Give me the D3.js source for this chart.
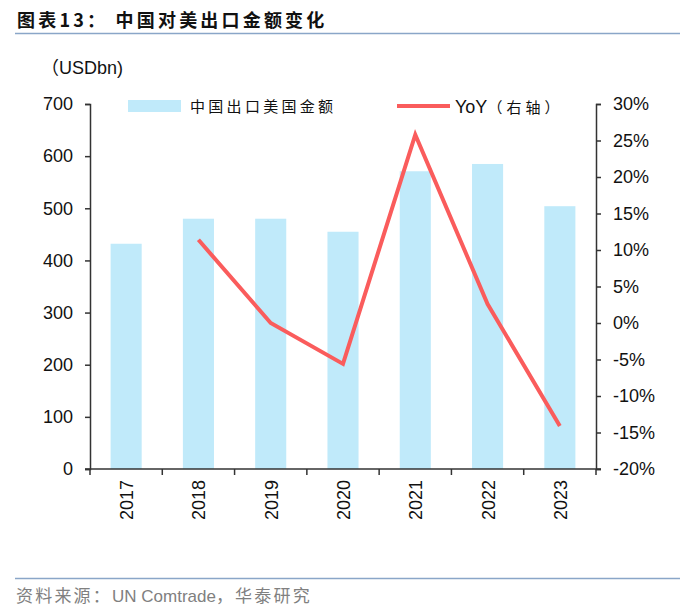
<!DOCTYPE html>
<html lang="zh">
<head>
<meta charset="UTF-8">
<title>中国对美出口金额变化</title>
<script src="https://cdn.jsdelivr.net/npm/d3@7"></script>
<style>
  body { margin: 0; background: #fff; }
  text { font-family: "Liberation Sans", Arial, sans-serif; }
  .cjk { font-family: "Noto Sans CJK SC", sans-serif; }
</style>
</head>
<body>
<script>
  // data
  var years = ['2017', '2018', '2019', '2020', '2021', '2022', '2023']
  var exportValues = [432, 480, 480, 455, 571, 585, 504]
  var yoyYears = ['2018', '2019', '2020', '2021', '2022', '2023']
  var yoyValues = [11.4, 0.0, -5.6, 25.8, 2.6, -14.1]
  var leftTicks = [0, 100, 200, 300, 400, 500, 600, 700]
  var rightTicks = [-20, -15, -10, -5, 0, 5, 10, 15, 20, 25, 30]

  var width = 700
  var height = 614
  var margin = { top: 104, right: 104, bottom: 145, left: 90 }
  var barColor = '#c0eafa'
  var lineColor = '#fa5c5c'

  var svg = d3.select('body')
    .append('svg')
    .attr('width', width)
    .attr('height', height)

  // title and rules
  svg.append('text')
    .attr('class', 'cjk')
    .attr('x', 17)
    .attr('y', 27)
    .attr('font-size', 18)
    .attr('font-weight', 700)
    .attr('letter-spacing', 3.2)
    .attr('fill', '#111')
    .text('图表13：  中国对美出口金额变化')

  svg.append('line')
    .attr('x1', 15).attr('x2', 680)
    .attr('y1', 33.5).attr('y2', 33.5)
    .attr('stroke', '#8aa6c8').attr('stroke-width', 1.5)

  svg.append('line')
    .attr('x1', 15).attr('x2', 680)
    .attr('y1', 578.5).attr('y2', 578.5)
    .attr('stroke', '#8aa6c8').attr('stroke-width', 1.5)

  var source = svg.append('text')
    .attr('x', 16)
    .attr('y', 602)
    .attr('fill', '#808080')
  source.append('tspan')
    .attr('class', 'cjk')
    .attr('font-size', 17)
    .attr('letter-spacing', 2.2)
    .text('资料来源：')
  source.append('tspan')
    .attr('font-size', 17)
    .text('UN Comtrade')
  source.append('tspan')
    .attr('class', 'cjk')
    .attr('font-size', 17)
    .attr('letter-spacing', 2.2)
    .text('，华泰研究')

  var unit = svg.append('text')
    .attr('x', 41)
    .attr('y', 74)
    .attr('fill', '#111')
  unit.append('tspan')
    .attr('class', 'cjk')
    .attr('font-size', 18)
    .text('（')
  unit.append('tspan')
    .attr('font-size', 18)
    .text('USDbn)')

  var x = d3.scaleBand()
    .domain(years)
    .range([margin.left, width - margin.right])
    .paddingInner(0.57)
    .paddingOuter(0.285)

  var xTicks = d3.scaleBand()
    .domain(years)
    .range([margin.left, width - margin.right])

  var yLeft = d3.scaleLinear()
    .domain([0, 700])
    .range([height - margin.bottom, margin.top])

  var yRight = d3.scaleLinear()
    .domain([-20, 30])
    .range([height - margin.bottom, margin.top])

  // bars
  svg.append('g')
    .selectAll('rect')
    .data(years)
    .enter()
    .append('rect')
    .attr('x', d => x(d))
    .attr('width', x.bandwidth())
    .attr('y', (d, i) => yLeft(exportValues[i]))
    .attr('height', (d, i) => yLeft(0) - yLeft(exportValues[i]))
    .attr('fill', barColor)

  // yoy line
  var line = d3.line()
    .x((d, i) => xTicks(yoyYears[i]) + xTicks.bandwidth() / 2)
    .y(d => yRight(d))

  svg.append('path')
    .datum(yoyValues)
    .attr('d', line)
    .attr('fill', 'none')
    .attr('stroke', lineColor)
    .attr('stroke-width', 4)
    .attr('stroke-linejoin', 'miter')

  // axes
  var leftAxis = svg.append('g')
    .attr('transform', 'translate(' + margin.left + ',0)')
    .call(d3.axisLeft(yLeft).tickValues(leftTicks).tickSize(5).tickPadding(12))

  var rightAxis = svg.append('g')
    .attr('transform', 'translate(' + (width - margin.right) + ',0)')
    .call(d3.axisRight(yRight).tickValues(rightTicks).tickSize(5).tickPadding(12)
      .tickFormat(d => d + '%'))

  var xBoundaries = years.map(d => xTicks(d)).concat([width - margin.right])
  var bottomAxis = svg.append('g')
    .attr('transform', 'translate(0,' + (height - margin.bottom) + ')')

  bottomAxis.append('line')
    .attr('x1', margin.left - 5).attr('x2', width - margin.right + 5)
    .attr('stroke', '#333').attr('stroke-width', 1.5)

  bottomAxis.selectAll('.tk')
    .data(xBoundaries)
    .enter()
    .append('line')
    .attr('class', 'tk')
    .attr('x1', d => d).attr('x2', d => d)
    .attr('y1', 0).attr('y2', 6)
    .attr('stroke', '#333').attr('stroke-width', 1.5)

  bottomAxis.selectAll('.lbl')
    .data(years)
    .enter()
    .append('text')
    .attr('class', 'lbl')
    .attr('transform', d => 'translate(' + (xTicks(d) + xTicks.bandwidth() / 2 + 7) + ',11) rotate(-90)')
    .attr('text-anchor', 'end')
    .attr('font-size', 18)
    .attr('fill', '#111')
    .text(d => d)

  ;[leftAxis, rightAxis].forEach(function (g) {
    g.select('.domain').attr('stroke', '#333').attr('stroke-width', 1.5)
    g.selectAll('.tick line').attr('stroke', '#333').attr('stroke-width', 1.5)
    g.selectAll('.tick text')
      .attr('font-size', 18)
      .attr('font-family', '"Liberation Sans", Arial, sans-serif')
      .attr('fill', '#111')
  })

  // legend
  var legend = svg.append('g')
  legend.append('rect')
    .attr('x', 128).attr('y', 100)
    .attr('width', 53).attr('height', 12)
    .attr('fill', barColor)
  legend.append('text')
    .attr('class', 'cjk')
    .attr('x', 190).attr('y', 112)
    .attr('font-size', 15)
    .attr('letter-spacing', 3.3)
    .attr('fill', '#111')
    .text('中国出口美国金额')
  legend.append('line')
    .attr('x1', 397).attr('x2', 450)
    .attr('y1', 106).attr('y2', 106)
    .attr('stroke', lineColor).attr('stroke-width', 4)
  legend.append('text')
    .attr('x', 455).attr('y', 113)
    .attr('font-size', 18)
    .attr('fill', '#111')
    .text('YoY')
    .append('tspan')
    .attr('class', 'cjk')
    .attr('font-size', 15)
    .attr('letter-spacing', 4)
    .text('（右轴）')
</script>
</body>
</html>
